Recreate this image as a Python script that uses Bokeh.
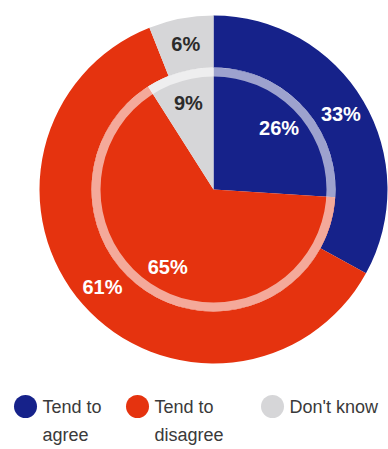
import math
from bokeh.plotting import figure
from bokeh.models import Range1d, ColumnDataSource
from bokeh.core.properties import value
from bokeh.embed import file_html
from bokeh.resources import INLINE

categories = ["Tend to agree", "Tend to disagree", "Don't know"]
legend_lines = [["Tend to", "agree"], ["Tend to", "disagree"], ["Don't know"]]
outer_values = [33, 61, 6]
inner_values = [26, 65, 9]
colors = ["#16228a", "#e5330f", "#d6d6d8"]
label_colors = ["#ffffff", "#ffffff", "#2b2b2b"]

W, H = 388, 449
cx, cy = 213, H - 189
R_OUT, R_IN = 174, 122

p = figure(width=W, height=H, x_range=Range1d(0, W), y_range=Range1d(0, H),
           output_backend="svg", toolbar_location=None, min_border=0)
p.axis.visible = False
p.grid.visible = False
p.outline_line_color = None
p.background_fill_color = "white"
p.border_fill_color = "white"


def angles(vals):
    tot = float(sum(vals))
    starts, ends, mids = [], [], []
    c = 0.0
    for v in vals:
        s = math.pi / 2 - 2 * math.pi * c / tot
        c += v
        e = math.pi / 2 - 2 * math.pi * c / tot
        starts.append(s)
        ends.append(e)
        mids.append((s + e) / 2)
    return starts, ends, mids


os_, oe, om = angles(outer_values)
is_, ie, im = angles(inner_values)

p.annular_wedge(x=cx, y=cy, inner_radius=R_IN, outer_radius=R_OUT,
                start_angle=os_, end_angle=oe, direction="clock",
                fill_color=colors, line_color=None)
p.wedge(x=cx, y=cy, radius=R_IN, start_angle=is_, end_angle=ie,
        direction="clock", fill_color=colors, line_color=None)
p.annulus(x=cx, y=cy, inner_radius=R_IN - 9, outer_radius=R_IN,
          fill_color="white", fill_alpha=0.58, line_color=None)

r_ol = (R_IN + R_OUT) / 2
r_il = 90
lab = dict(
    x=[cx + r_ol * math.cos(a) for a in om] + [cx + r_il * math.cos(a) for a in im],
    y=[cy + r_ol * math.sin(a) for a in om] + [cy + r_il * math.sin(a) for a in im],
    t=[f"{v}%" for v in outer_values] + [f"{v}%" for v in inner_values],
    c=label_colors + label_colors,
)
p.text(x="x", y="y", text="t", text_color="c", source=ColumnDataSource(lab),
       text_font=value("Liberation Sans"), text_font_style="bold",
       text_font_size="20px", text_align="center", text_baseline="middle")

# legend
leg_x = [25, 137, 272]
leg_y = H - 406
p.scatter(x=leg_x, y=[leg_y] * 3, size=23, marker="circle",
          fill_color=colors, line_color=None)
tx, ty, tt = [], [], []
for i, lines in enumerate(legend_lines):
    for j, ln in enumerate(lines):
        tx.append(leg_x[i] + 17)
        ty.append(leg_y - j * 28)
        tt.append(ln)
p.text(x=tx, y=ty, text=tt, text_color="#3a3a3a",
       text_font=value("Liberation Sans"), text_font_size="18px",
       text_align="left", text_baseline="middle")

open("out.html", "w").write(file_html(p, INLINE))
